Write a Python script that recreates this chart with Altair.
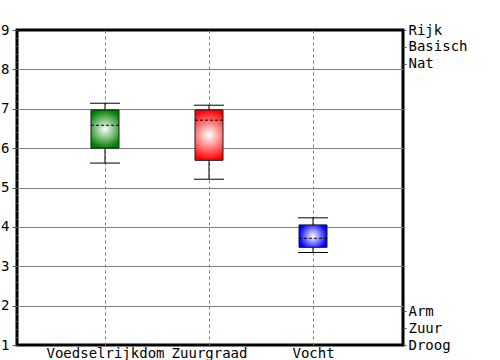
import altair as alt
import pandas as pd

categories = ["Voedselrijkdom", "Zuurgraad", "Vocht"]
whisker_low = [5.62, 5.21, 3.35]
q1 = [6.0, 5.69, 3.48]
q3 = [6.97, 6.97, 4.05]
whisker_high = [7.14, 7.09, 4.23]
means = [6.58, 6.71, 3.71]
box_colors = ["#008000", "#ff0000", "#0000ff"]

left_ticks = [round(1 + 0.2 * k, 1) for k in range(41)]
right_values = [9.0, 8.57, 8.14, 1.86, 1.43, 1.0]
right_labels = ["Rijk", "Basisch", "Nat", "Arm", "Zuur", "Droog"]

positions = list(range(len(categories)))
df = pd.DataFrame({
    "pos": positions,
    "cat": categories,
    "lo": whisker_low,
    "q1": q1,
    "q3": q3,
    "hi": whisker_high,
    "mean": means,
})

FONT = "DejaVu Sans Mono"
yscale = alt.Scale(domain=[1, 9], nice=False, zero=False, padding=0)
xscale = alt.Scale(domain=[-0.846, 2.865], nice=False, zero=False, padding=0)

is_int = "abs(datum.value - round(datum.value)) < 0.01"

x_axis = alt.Axis(
    title=None, values=positions, labelAngle=0, ticks=False, domain=False, labelPadding=1,
    labelExpr="[" + ",".join("'%s'" % s for s in categories) + "][round(datum.value)]",
    labelFont=FONT, labelFontSize=14, labelColor="black", labelFlush=False,
    labelOverlap=False,
    grid=True, gridDash=[3, 3], gridColor="#808080", gridWidth=1,
)
left_axis = alt.Axis(
    title=None, values=left_ticks, domain=False,
    labelExpr=is_int + " ? format(datum.value, 'd') : ''",
    labelFont=FONT, labelFontSize=14, labelColor="black", labelPadding=3,
    labelOverlap=False,
    tickSize={"condition": {"test": is_int, "value": 5}, "value": 2},
    tickColor="#555555",
    grid=True, gridColor="#808080", gridWidth=1,
    gridOpacity={"condition": {"test": is_int + " && datum.value > 1.5 && datum.value < 8.5", "value": 1}, "value": 0},
)
right_axis = alt.Axis(
    title=None, orient="right", values=right_values, domain=False, grid=False,
    labelExpr="[" + ",".join("'%s'" % s for s in right_labels) + "][indexof(["
    + ",".join(str(v) for v in right_values) + "], datum.value)]",
    labelFont=FONT, labelFontSize=14, labelColor="black", labelAlign="left",
    labelPadding=2, labelOverlap=False, tickSize=3, tickColor="#555555",
)

X = alt.X("pos:Q", scale=xscale, axis=x_axis)
base = alt.Chart(df)

whisker = base.mark_rule(color="black", strokeWidth=1).encode(
    x=X,
    y=alt.Y("lo:Q", scale=yscale, axis=left_axis),
    y2="hi:Q",
)

layers = [whisker]
for c, col in zip(categories, box_colors):
    grad = {
        "gradient": "radial",
        "x1": 0.5, "y1": 0.5, "r1": 0,
        "x2": 0.5, "y2": 0.5, "r2": 0.5,
        "stops": [
            {"offset": 0, "color": "#ffffff"},
            {"offset": 1, "color": col},
        ],
    }
    layers.append(
        base.transform_filter(alt.datum.cat == c)
        .mark_bar(size=28, fill=grad, stroke="#1a1a1a", strokeWidth=1, orient="vertical")
        .encode(x=X, y=alt.Y("q1:Q", scale=yscale, axis=None), y2="q3:Q")
    )

cap_lo = base.mark_rule(color="black", strokeWidth=1, xOffset=-15, x2Offset=15).encode(
    x=X, x2="pos:Q", y=alt.Y("lo:Q", scale=yscale, axis=None)
)
cap_hi = base.mark_rule(color="black", strokeWidth=1, xOffset=-15, x2Offset=15).encode(
    x=X, x2="pos:Q", y=alt.Y("hi:Q", scale=yscale, axis=None)
)
mean_line = base.mark_rule(color="black", strokeWidth=1, strokeDash=[3, 2], xOffset=-14, x2Offset=14).encode(
    x=X, x2="pos:Q", y=alt.Y("mean:Q", scale=yscale, axis=right_axis)
)
layers += [cap_lo, cap_hi, mean_line]

chart = (
    alt.layer(*layers)
    .resolve_axis(y="independent")
    .properties(
        width=386, height=315,
        padding={"left": 17, "top": 30, "right": 97, "bottom": 15},
        autosize=alt.AutoSizeParams(type="none"),
        background="white",
    )
    .configure_view(stroke="black", strokeWidth=3)
)

chart.save("out.html", embed_options={"renderer": "svg", "actions": False})
